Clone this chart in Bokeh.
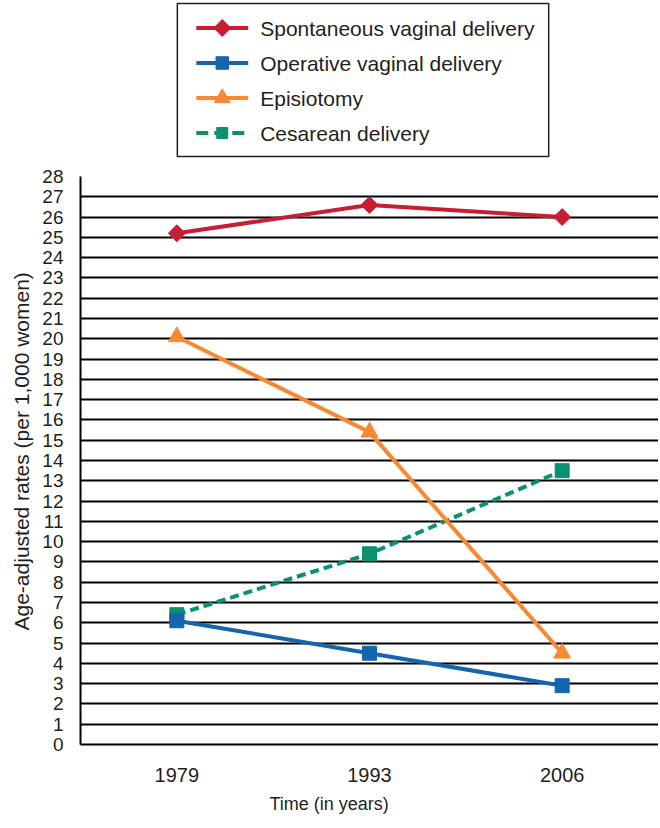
from bokeh.plotting import figure
from bokeh.models import FactorRange, Range1d, FixedTicker, Title
from bokeh.core.properties import value
from bokeh.layouts import column
from bokeh.embed import file_html
from bokeh.resources import INLINE
import numpy as np

years = ["1979", "1993", "2006"]
spontaneous = [25.2, 26.6, 26.0]
operative = [6.1, 4.5, 2.9]
episiotomy = [20.1, 15.4, 4.5]
cesarean = [6.4, 9.4, 13.5]
y_ticks = list(range(0, 29))
labels = ["Spontaneous vaginal delivery", "Operative vaginal delivery",
          "Episiotomy", "Cesarean delivery"]

RED = "#C81E32"
BLUE = "#1565AE"
ORANGE = "#F58A33"
GREEN = "#0A9170"
FONT = "Liberation Sans"
TXT = "#231F20"

# series styles (legend order)
colors = [RED, BLUE, ORANGE, GREEN]
markers = ["square", "square", "triangle", "square"]
angles = [np.pi / 4, 0, 0, 0]
dashes = ["solid", "solid", "solid", "12 6"]

# ---------------- legend strip (pixel coordinates) ----------------
LW, LH = 579, 160
lf = figure(x_range=Range1d(0, LW), y_range=Range1d(0, LH),
            width=658, height=LH, output_backend="svg", toolbar_location=None,
            min_border_left=79, min_border_right=0, min_border_top=0,
            min_border_bottom=0)
lf.axis.visible = False
lf.grid.grid_line_color = None
lf.outline_line_color = None

lf.quad(left=97, right=469, bottom=4, top=157, fill_color="white",
        line_color=TXT, line_width=1.5)
row_y = [132.5, 97.5, 62.5, 27.5]
leg_sizes = [12, 12.5, 16, 11]
for lab, col, mk, ang, dsh, yy, sz in zip(labels, colors, markers, angles,
                                          dashes, row_y, leg_sizes):
    lf.segment(x0=[116], x1=[168], y0=[yy], y1=[yy], line_color=col,
               line_width=4, line_dash=dsh)
    lf.scatter(x=[142], y=[yy], marker=mk, size=sz, angle=ang, color=col)
    lf.text(x=[180], y=[yy], text=[lab], text_font=value(FONT),
            text_font_size="21px", text_color=TXT, text_baseline="middle",
            text_align="left")

# ---------------- main chart ----------------
p = figure(x_range=FactorRange(factors=years, range_padding=0),
           y_range=Range1d(0, 28),
           width=658, height=666,
           output_backend="svg", toolbar_location=None,
           min_border_left=79, min_border_right=0,
           min_border_top=16, min_border_bottom=82)

# draw order: green, blue, orange, red
p.line(years, cesarean, color=GREEN, line_width=4, line_dash="9 5")
p.scatter(years, cesarean, marker="square", size=14, color=GREEN)
p.line(years, operative, color=BLUE, line_width=4)
p.scatter(years, operative, marker="square", size=14, color=BLUE)
p.line(years, episiotomy, color=ORANGE, line_width=4)
p.scatter(years, episiotomy, marker="triangle", size=17, color=ORANGE)
p.line(years, spontaneous, color=RED, line_width=4)
p.scatter(years, spontaneous, marker="square", size=12, angle=np.pi / 4, color=RED)

p.yaxis.ticker = FixedTicker(ticks=y_ticks)
p.yaxis.major_tick_out = 0
p.yaxis.major_tick_in = 0
p.yaxis.minor_tick_out = 0
p.yaxis.minor_tick_in = 0
p.yaxis.axis_line_color = "black"
p.yaxis.axis_line_width = 2
p.yaxis.major_label_text_font = FONT
p.yaxis.major_label_text_font_size = "19px"
p.yaxis.major_label_text_color = TXT
p.yaxis.major_label_standoff = 17

ytitle = Title(text="Age-adjusted rates (per 1,000 women)", align="left",
               text_font=FONT, text_font_size="21px", text_font_style="normal",
               text_color=TXT, offset=114, standoff=14)
p.add_layout(ytitle, "left")

p.xaxis.major_tick_out = 0
p.xaxis.major_tick_in = 0
p.xaxis.axis_line_color = "black"
p.xaxis.axis_line_width = 2
p.xaxis.major_label_text_font = FONT
p.xaxis.major_label_text_font_size = "20px"
p.xaxis.major_label_text_color = TXT
p.xaxis.major_label_standoff = 23

xtitle = Title(text="Time (in years)", align="left", text_font=FONT,
               text_font_size="18px", text_font_style="normal",
               text_color=TXT, offset=189, standoff=14)
p.add_layout(xtitle, "below")

p.xgrid.grid_line_color = None
p.ygrid.grid_line_color = "black"
p.ygrid.grid_line_width = 1.8
p.outline_line_color = None
p.background_fill_color = "white"
p.border_fill_color = "white"

layout = column(lf, p, spacing=0)
open("out.html", "w").write(file_html(layout, INLINE))
